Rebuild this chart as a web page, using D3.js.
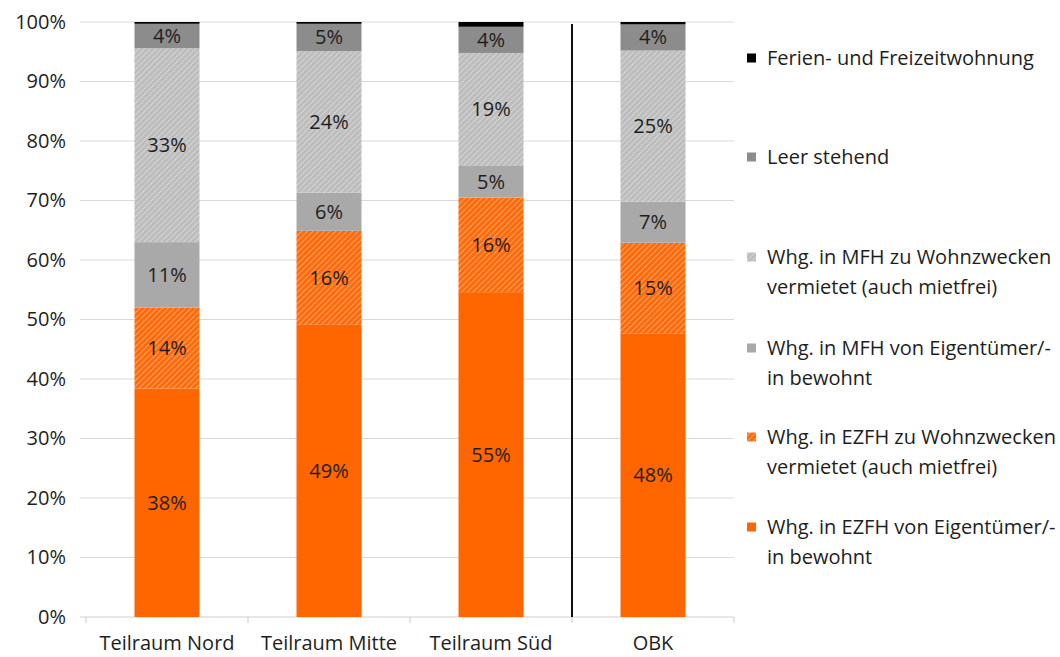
<!DOCTYPE html>
<html>
<head>
<meta charset="utf-8">
<script src="https://cdn.jsdelivr.net/npm/d3@7"></script>
<style>
  html, body { margin: 0; padding: 0; background: #fff; }
  svg { display: block; font-family: "Open Sans", "DejaVu Sans", sans-serif; }
</style>
</head>
<body>
<svg id="chart" width="1060" height="657"></svg>
<script>
// Regions shown on the x axis
const regions = ["Teilraum Nord", "Teilraum Mitte", "Teilraum Süd", "OBK"];

// Share of dwellings per usage type (percent), stacked bottom to top
const ezfhOwner   = [38.4, 49.1, 54.6, 47.6];
const ezfhRented  = [13.6, 15.8, 15.9, 15.3];
const mfhOwner    = [11.0,  6.4,  5.3,  6.9];
const mfhRented   = [32.6, 23.8, 19.0, 25.4];
const vacant      = [ 4.1,  4.6,  4.4,  4.4];
const holiday     = [ 0.3,  0.3,  0.8,  0.4];

const yTicks = [0, 10, 20, 30, 40, 50, 60, 70, 80, 90, 100];

// Legend labels (top to bottom), each split into its printed lines
const legendLabels = [
  ["Ferien- und Freizeitwohnung"],
  ["Leer stehend"],
  ["Whg. in MFH zu Wohnzwecken", "vermietet (auch mietfrei)"],
  ["Whg. in MFH von Eigentümer/-", "in bewohnt"],
  ["Whg. in EZFH zu Wohnzwecken", "vermietet (auch mietfrei)"],
  ["Whg. in EZFH von Eigentümer/-", "in bewohnt"]
];

const series = [
  { key: "ezfhOwner",  values: ezfhOwner,  fill: "#FF6600",          label: true },
  { key: "ezfhRented", values: ezfhRented, fill: "url(#hatchOrange)", label: true },
  { key: "mfhOwner",   values: mfhOwner,   fill: "#A9A9A9",          label: true },
  { key: "mfhRented",  values: mfhRented,  fill: "url(#hatchGray)",   label: true },
  { key: "vacant",     values: vacant,     fill: "#8C8C8C",          label: true },
  { key: "holiday",    values: holiday,    fill: "#000000",          label: false }
];

const FS = 20;
const TXT = "#1e1e1e";

const svg = d3.select("#chart");
const margin = { left: 86, right: 326, top: 22, bottom: 40 };
const W = 1060, H = 657;
const plotW = W - margin.left - margin.right;   // 648
const plotH = H - margin.top - margin.bottom;    // 595

// Hatch patterns
const defs = svg.append("defs");
function hatch(id, base, line) {
  const p = defs.append("pattern")
    .attr("id", id)
    .attr("patternUnits", "userSpaceOnUse")
    .attr("width", 4).attr("height", 4)
    .attr("patternTransform", "rotate(45)");
  p.append("rect").attr("width", 4).attr("height", 4).attr("fill", base);
  p.append("line").attr("x1", 0).attr("y1", 0).attr("x2", 0).attr("y2", 4)
    .attr("stroke", line).attr("stroke-width", 1.6);
}
hatch("hatchOrange", "#FF6A0A", "#FFB27F");
hatch("hatchGray", "#BDBDBD", "#DADADA");

const g = svg.append("g").attr("transform", `translate(${margin.left},${margin.top})`);

const x = d3.scaleBand().domain(regions).range([0, plotW]).paddingInner(0).paddingOuter(0);
const y = d3.scaleLinear().domain([0, 100]).range([plotH, 0]);
const barW = 65;

// Gridlines
g.append("g")
  .selectAll("line")
  .data(yTicks.filter(d => d > 0))
  .join("line")
  .attr("x1", -6).attr("x2", plotW)
  .attr("y1", d => y(d)).attr("y2", d => y(d))
  .attr("stroke", "#D9D9D9").attr("stroke-width", 1.2);

// Y axis labels
const yAxis = d3.axisLeft(y).tickValues(yTicks).tickFormat(d => d + "%").tickSize(0).tickPadding(20);
const ya = g.append("g").call(yAxis);
ya.select(".domain").remove();
ya.selectAll("text").attr("font-size", FS).attr("fill", TXT).attr("font-family", "Open Sans");

// X axis baseline with boundary ticks
g.append("line").attr("x1", -6).attr("x2", plotW).attr("y1", plotH).attr("y2", plotH)
  .attr("stroke", "#D0D0D0").attr("stroke-width", 1.2);
const bounds = d3.range(regions.length + 1).map(i => i * x.step());
g.append("g").selectAll("line").data(bounds).join("line")
  .attr("x1", d => d).attr("x2", d => d)
  .attr("y1", plotH).attr("y2", plotH + 6)
  .attr("stroke", "#D0D0D0").attr("stroke-width", 1.2);

const xAxis = d3.axisBottom(x).tickSize(0).tickPadding(19);
const xa = g.append("g").attr("transform", `translate(0,${plotH})`).call(xAxis);
xa.select(".domain").remove();
xa.selectAll("text").attr("font-size", FS).attr("fill", TXT).attr("font-family", "Open Sans");

// Stacked bars
const stackData = regions.map((r, i) => {
  const o = { region: r };
  series.forEach(s => o[s.key] = s.values[i]);
  return o;
});
const stacked = d3.stack().keys(series.map(s => s.key))(stackData);

stacked.forEach((layer, li) => {
  const s = series[li];
  const lg = g.append("g");
  lg.selectAll("rect").data(layer).join("rect")
    .attr("x", d => x(d.data.region) + (x.bandwidth() - barW) / 2)
    .attr("width", barW)
    .attr("y", d => y(d[1]))
    .attr("height", d => y(d[0]) - y(d[1]))
    .attr("fill", s.fill);
  if (s.label) {
    lg.selectAll("text").data(layer).join("text")
      .attr("x", d => x(d.data.region) + x.bandwidth() / 2)
      .attr("y", d => y((d[0] + d[1]) / 2))
      .attr("dy", "0.35em")
      .attr("text-anchor", "middle")
      .attr("font-size", FS)
      .attr("fill", TXT)
      .text(d => Math.round(d[1] - d[0]) + "%");
  }
});

// Separator between the sub-regions and the district total
g.append("line")
  .attr("x1", x("OBK")).attr("x2", x("OBK"))
  .attr("y1", 2).attr("y2", plotH)
  .attr("stroke", "#111").attr("stroke-width", 2);

// Legend (top entry = top of stack)
const legendSeries = series.slice().reverse();
const legendTop = [58, 157, 257, 348, 437, 527];
const leg = svg.append("g");
legendSeries.forEach((s, i) => {
  const yy = legendTop[i];
  leg.append("rect").attr("x", 747).attr("y", yy - 4.5).attr("width", 9).attr("height", 9).attr("fill", s.fill);
  legendLabels[i].forEach((line, j) => {
    leg.append("text")
      .attr("x", 767).attr("y", yy + j * 30).attr("dy", "0.35em")
      .attr("font-size", FS).attr("fill", TXT)
      .text(line);
  });
});
</script>
</body>
</html>
